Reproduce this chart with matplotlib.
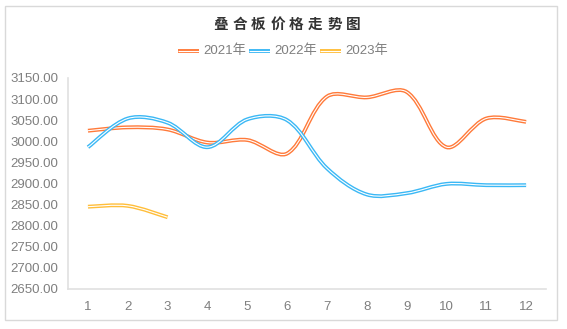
import numpy as np
import matplotlib.pyplot as plt
from matplotlib.path import Path
from matplotlib.patches import PathPatch, Rectangle
from matplotlib.lines import Line2D

plt.rcParams['font.family'] = ['Liberation Sans', 'Noto Sans CJK SC', 'DejaVu Sans']

months = [1, 2, 3, 4, 5, 6, 7, 8, 9, 10, 11, 12]
price_2021 = [3025, 3033, 3028, 2997, 3003, 2971, 3106, 3104, 3117, 2986, 3054, 3046]
price_2022 = [2986, 3054, 3044, 2986, 3052, 3050, 2936, 2874, 2877, 2899, 2896, 2896]
price_2023 = [2845, 2847, 2820]
labels = ['2021年', '2022年', '2023年']
colors = ['#FF7A3A', '#3BB8F5', '#FFBE3A']
yticks = np.arange(2650, 3151, 50)


def smooth_path(x, y, sx=39.8, sy=21.1 / 50):
    # excel style smoothed line: cubic bezier, control points scaled by chord length
    pts = np.column_stack([np.asarray(x) * sx, np.asarray(y) * sy]).astype(float)
    n = len(pts)
    verts = [pts[0]]
    codes = [Path.MOVETO]
    for i in range(n - 1):
        p0 = pts[i - 1] if i > 0 else pts[i]
        p1 = pts[i]
        p2 = pts[i + 1]
        p3 = pts[i + 2] if i + 2 < n else pts[i + 1]
        d01 = np.hypot(*(p1 - p0))
        d12 = np.hypot(*(p2 - p1))
        d23 = np.hypot(*(p3 - p2))
        c1 = p1 + (p2 - p0) * d12 / (d01 + d12) / 3 if d01 > 0 else p1 + (p2 - p0) / 6
        c2 = p2 - (p3 - p1) * d12 / (d12 + d23) / 3 if d23 > 0 else p2 - (p3 - p1) / 6
        verts += [c1, c2, p2]
        codes += [Path.CURVE4] * 3
    verts = np.array(verts) / [sx, sy]
    return Path(verts, codes)


fig = plt.figure(figsize=(5.67, 3.29), dpi=100)
ax = fig.add_axes([0.12, 0.1216, 0.843, 0.6414])

series = [(months, price_2021), (months, price_2022), (months[:len(price_2023)], price_2023)]
for (xs, ys), c in zip(series, colors):
    p = smooth_path(xs, ys)
    ax.add_patch(PathPatch(p, fill=False, edgecolor=c, lw=2.8, capstyle='butt'))
    ax.add_patch(PathPatch(p, fill=False, edgecolor='white', lw=0.8, capstyle='butt'))

ax.set_xlim(0.5, 12.5)
ax.set_ylim(2650, 3150)
ax.set_xticks(months)
ax.set_yticks(yticks)
ax.set_yticklabels(['%.2f' % v for v in yticks])
ax.tick_params(length=0, labelsize=9.5, colors='#7F7F7F')
ax.tick_params(axis='y', pad=7)
ax.tick_params(axis='x', pad=9)
for s in ['top', 'right']:
    ax.spines[s].set_visible(False)
for s in ['left', 'bottom']:
    ax.spines[s].set_color('#E0E0E0')
    ax.spines[s].set_linewidth(1.2)

# title with letter spacing
title = '叠合板价格走势图'
x0 = 214 / 567
step = 19 / 567
for i, ch in enumerate(title):
    fig.text(x0 + i * step + 6.5 / 567, 1 - 24 / 329, ch, ha='center', va='center',
             fontsize=10.5, fontweight='bold', color='#333333', family='Noto Sans CJK SC')

# legend
lx = [178, 249, 320]
for x, lab, c in zip(lx, labels, colors):
    yy = 1 - 51 / 329
    xs = [x / 567, (x + 21) / 567]
    fig.add_artist(Line2D(xs, [yy, yy], color=c, lw=2.8, transform=fig.transFigure, solid_capstyle='butt'))
    fig.add_artist(Line2D(xs, [yy, yy], color='white', lw=0.8, transform=fig.transFigure, solid_capstyle='butt'))
    fig.text((x + 25) / 567, yy, lab, ha='left', va='center', fontsize=9.5, color='#7F7F7F')

fig.add_artist(Rectangle((5 / 567, 9 / 329), 552 / 567, 314 / 329, fill=False,
                         edgecolor='#D9D9D9', lw=1, transform=fig.transFigure))

fig.savefig('out.png', dpi=100)
